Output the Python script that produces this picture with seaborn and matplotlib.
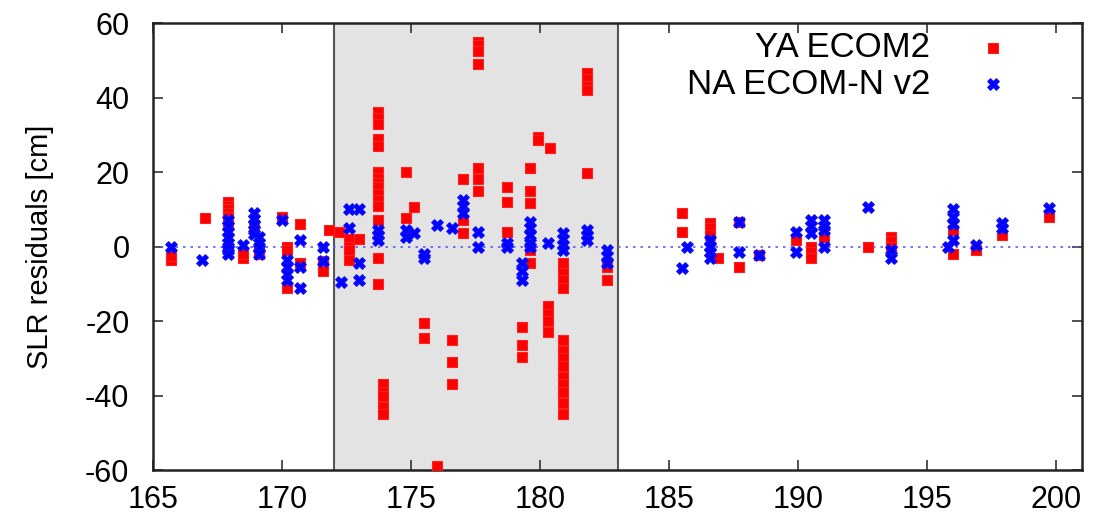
import numpy as np
import pandas as pd
import matplotlib
matplotlib.use("Agg")
import matplotlib.pyplot as plt
import seaborn as sns

# YA ECOM2 (red squares)
ya_x = [165.7, 165.7, 167.0, 167.9, 167.9, 167.9, 167.9, 167.9, 167.9,
        168.5, 168.5, 168.9, 169.1, 169.1, 170.0, 170.2, 170.2, 170.2,
        170.7, 170.7, 171.6, 171.6, 171.6, 171.8, 172.2, 172.6, 172.6,
        172.6, 172.6, 173.0,
        173.7, 173.7, 173.7, 173.7, 173.7, 173.7, 173.7, 173.7, 173.7,
        173.7, 173.7, 173.7, 173.7, 173.7, 173.7,
        173.9, 173.9, 173.9, 173.9, 173.9,
        174.8, 174.8, 175.1, 175.5, 175.5, 176.0, 176.6, 176.6, 176.6,
        177.0, 177.0, 177.0, 177.6, 177.6, 177.6, 177.6, 177.6, 177.6, 177.6,
        178.7, 178.7, 178.7, 179.3, 179.3, 179.3,
        179.6, 179.6, 179.6, 179.6, 179.6, 179.9, 179.9, 180.4,
        180.3, 180.3, 180.3, 180.3,
        180.9, 180.9, 180.9, 180.9, 180.9, 180.9, 180.9, 180.9, 180.9,
        180.9, 180.9, 180.9, 180.9,
        181.8, 181.8, 181.8, 181.8, 181.8, 182.6, 182.6,
        185.5, 185.5, 186.6, 186.6, 186.6, 186.9, 187.7, 187.7, 188.5,
        189.9, 190.5, 190.5, 190.5, 191.0, 192.7, 193.6, 193.6, 193.6,
        193.6, 196.0, 196.0, 196.9, 197.9, 199.7]
ya_y = [-3.6, -2.5, 7.6, 12, 11, 10, 9, 8, 6,
        -3, -2, 5, -2, -1, 8, 0, -1, -11,
        6, -4.5, -4, -5, -6.5, 4.4, 4, 2, 0,
        -1, -3.6, 2,
        36, 34.5, 33, 29, 27, 20, 18.5, 17, 16,
        14, 12.5, 11, 7, -3, -10,
        -37, -39, -40, -43, -45,
        20, 7.6, 10.6, -20.5, -24.6, -59, -25, -31, -37,
        18, 7, 3.6, 55, 54, 52.5, 49, 21, 18, 15,
        16, 12, 4, -21.5, -26.4, -29.6,
        21, 15, 11.6, -1, -4.5, 29.5, 28.5, 26.4,
        -16, -18, -20, -23,
        -4.5, -7, -9, -11, -25, -28, -30, -32, -35,
        -37, -39, -42, -45,
        46.5, 45, 43, 42, 19.7, -5.5, -9,
        9, 4, 6.3, 5, 3, -3, 6.6, -5.5, -2.3,
        1.7, 0, -1.5, -3, 2.6, 0, 2.6, 1.5, 0,
        -1, 4.4, -2, -1, 3, 8]

# NA ECOM-N v2 (blue asterisks)
na_x = [165.7, 166.9, 167.9, 167.9, 167.9, 167.9, 167.9, 167.9, 167.9,
        167.9, 168.5, 168.9, 168.9, 168.9, 168.9, 168.9, 169.1, 169.1,
        169.1, 169.1, 170.0, 170.2, 170.2, 170.2, 170.2, 170.7, 170.7,
        170.7, 171.6, 171.6, 172.3, 172.6, 172.6, 173.0, 173.0, 173.0,
        173.7, 173.7, 173.7, 174.8, 174.8, 175.1, 175.5, 175.5, 176.0,
        176.6, 177.0, 177.0, 177.0, 177.6, 177.6, 178.7, 178.7, 179.3,
        179.3, 179.3, 179.6, 179.6, 179.6, 179.6, 179.6, 180.3, 180.9,
        180.9, 180.9, 180.9, 181.8, 181.8, 181.8, 182.6, 182.6, 182.6,
        185.7, 185.5, 186.6, 186.6, 186.6, 186.6, 187.7, 187.7, 188.5,
        189.9, 189.9, 190.5, 190.5, 190.5, 191.0, 191.0, 191.0, 191.0,
        192.7, 193.6, 193.6, 195.8, 196.0, 196.0, 196.0, 196.0, 196.9,
        197.9, 197.9, 199.7]
na_y = [0, -3.6, 7, 5.5, 4, 2.5, 1, 0, -1,
        -2, 0.5, 9, 7.5, 6, 4.5, 3.5, 2.5, 1,
        0, -2, 7, -3.6, -5.5, -7.5, -9, 1.7, -5.5,
        -11, 0, -4, -9.5, 10, 5, 10, -4.5, -9,
        4.4, 3, 1.7, 4.4, 2.5, 3.6, -2, -3, 5.8,
        5, 12.5, 11, 9, 4, 0, 1, 0, -4.5,
        -6.5, -9, 6.6, 5, 3, 1, 0, 1, 3.6,
        2, 0.5, -1, 4.4, 3, 1.7, -1, -2.5, -4.5,
        0, -5.7, 1.7, 0, -1.5, -3, 6.6, -1.5, -2.3,
        4, -1.5, 7, 5.5, 3.6, 7, 5.5, 4.4, 0,
        10.6, -1, -3, 0, 10, 8, 6, 1.7, 0.4,
        6.3, 5, 10.3]

labels = ["YA ECOM2", "NA ECOM-N v2"]

df = pd.concat([
    pd.DataFrame({"day": ya_x, "res": ya_y, "sol": labels[0]}),
    pd.DataFrame({"day": na_x, "res": na_y, "sol": labels[1]}),
])

sns.set_style("ticks")
plt.rcParams["font.family"] = ["Liberation Sans", "DejaVu Sans"]
plt.rcParams["text.color"] = "black"
plt.rcParams["axes.unicode_minus"] = False

fig = plt.figure(figsize=(10.93, 5.24), dpi=100)
ax = fig.add_axes([0.140, 0.103, 0.850, 0.853])

# eclipse season shading
ax.axvspan(172, 183, color="#e3e3e3", zorder=0, lw=0)
ax.axvline(172, color="#555555", lw=1.5, zorder=1)
ax.axvline(183, color="#555555", lw=1.5, zorder=1)
ax.axhline(0, color="#5a5aff", lw=1.2, ls=(0, (1.5, 3)), zorder=1)

sns.scatterplot(data=df[df.sol == labels[0]], x="day", y="res", ax=ax,
                marker="s", color="#ff0000", s=60, edgecolor="#ff2020",
                linewidth=0.8, label=labels[0], zorder=3)
sns.scatterplot(data=df[df.sol == labels[1]], x="day", y="res", ax=ax,
                marker="X", color="#0000ff", s=70, edgecolor="#1010ff",
                linewidth=0.8, label=labels[1], zorder=4)

ax.set_xlim(165, 201)
ax.set_ylim(-60, 60)
ax.set_xticks(np.arange(165, 201, 5))
ax.set_yticks(np.arange(-60, 61, 20))
ax.set_xlabel("")
ax.set_ylabel("SLR residuals [cm]", fontsize=21, color="black", labelpad=22)
ax.tick_params(direction="in", length=7, width=1.2, labelsize=22,
               top=True, right=True, labelcolor="black", color="#333333")
ax.tick_params(axis="x", pad=11)
ax.tick_params(axis="y", pad=17)
for sp in ax.spines.values():
    sp.set_linewidth(1.8)
    sp.set_color("#222222")

ax.legend(loc="upper right", frameon=False, markerfirst=False, fontsize=25,
          handlelength=1.0, handletextpad=1.3, labelspacing=0.1,
          borderpad=0, borderaxespad=0, bbox_to_anchor=(0.9225, 0.982))

fig.savefig("out.png", dpi=100)
